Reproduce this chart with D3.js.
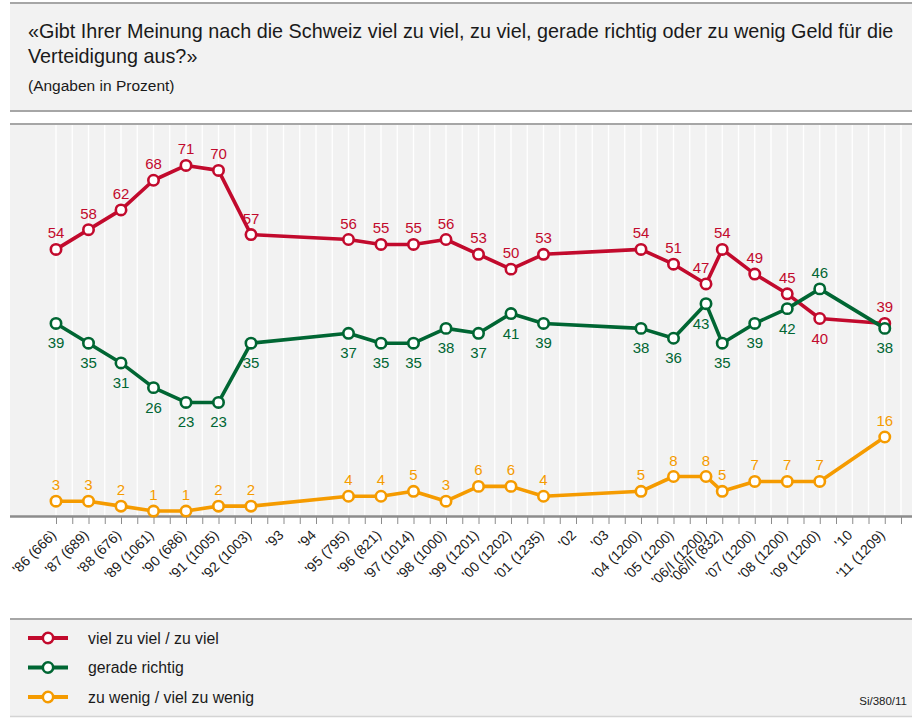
<!DOCTYPE html>
<html>
<head>
<meta charset="utf-8">
<script src="https://cdn.jsdelivr.net/npm/d3@7"></script>
<style>
  html, body { margin: 0; padding: 0; background: #ffffff; }
  svg { display: block; font-family: "Liberation Sans", Arial, sans-serif; }
</style>
</head>
<body>
<svg id="chart" width="912" height="718"></svg>
<script>
// Survey waves (year and sample size)
const periods = ["'86 (666)", "'87 (689)", "'88 (676)", "'89 (1061)", "'90 (686)", "'91 (1005)",
  "'92 (1003)", "'93", "'94", "'95 (795)", "'96 (821)", "'97 (1014)", "'98 (1000)", "'99 (1201)",
  "'00 (1202)", "'01 (1235)", "'02", "'03", "'04 (1200)", "'05 (1200)", "'06/I (1200)",
  "'06/II (832)", "'07 (1200)", "'08 (1200)", "'09 (1200)", "'10", "'11 (1209)"];

// Shares in percent (null = no survey that year)
const vielZuViel = [54, 58, 62, 68, 71, 70, 57, null, null, 56, 55, 55, 56, 53, 50, 53, null, null,
  54, 51, 47, 54, 49, 45, 40, null, 39];
const geradeRichtig = [39, 35, 31, 26, 23, 23, 35, null, null, 37, 35, 35, 38, 37, 41, 39, null, null,
  38, 36, 43, 35, 39, 42, 46, null, 38];
const zuWenig = [3, 3, 2, 1, 1, 2, 2, null, null, 4, 4, 5, 3, 6, 6, 4, null, null,
  5, 8, 8, 5, 7, 7, 7, null, 16];

const seriesNames = ["viel zu viel / zu viel", "gerade richtig", "zu wenig / viel zu wenig"];
const colors = ["#c20a2d", "#006633", "#f59b00"];

const title1 = "«Gibt Ihrer Meinung nach die Schweiz viel zu viel, zu viel, gerade richtig oder zu wenig Geld für die";
const title2 = "Verteidigung aus?»";
const subtitle = "(Angaben in Prozent)";
const sourceNote = "Si/380/11";

// Half-year slots: each wave is one year after the previous, a second wave "/II" half a year after.
const slots = [];
periods.forEach((p, i) => {
  if (i === 0) slots.push(0);
  else slots.push(slots[i - 1] + (p.includes("/II") ? 1 : 2));
});
const lastSlot = slots[slots.length - 1] + 1;

const W = 912, H = 718;
const svg = d3.select("#chart");

const x = d3.scaleLinear().domain([0, lastSlot]).range([56, 901]);
const y = d3.scaleLinear().domain([0, 80]).range([516, 121]);

// ---- header panel
svg.append("rect").attr("x", 10).attr("y", 3).attr("width", W - 10).attr("height", 108).attr("fill", "#f2f2f2");
svg.append("line").attr("x1", 10).attr("x2", W).attr("y1", 3).attr("y2", 3).attr("stroke", "#a6a6a6").attr("stroke-width", 2);
svg.append("line").attr("x1", 10).attr("x2", W).attr("y1", 111).attr("y2", 111).attr("stroke", "#a6a6a6").attr("stroke-width", 2);
svg.append("text").attr("x", 28).attr("y", 38).attr("font-size", 19.8).attr("fill", "#1a1a1a").text(title1);
svg.append("text").attr("x", 28).attr("y", 63).attr("font-size", 19.8).attr("fill", "#1a1a1a").text(title2);
svg.append("text").attr("x", 28).attr("y", 91).attr("font-size", 15.5).attr("fill", "#1a1a1a").text(subtitle);

// ---- plot panel
svg.append("rect").attr("x", 10).attr("y", 124).attr("width", W - 10).attr("height", 516 - 124).attr("fill", "#f2f2f2");
svg.append("line").attr("x1", 10).attr("x2", W).attr("y1", 124).attr("y2", 124).attr("stroke", "#a6a6a6").attr("stroke-width", 2);

const gridSlots = d3.range(0, lastSlot + 1);
svg.append("g").selectAll("line").data(gridSlots).join("line")
  .attr("x1", d => x(d)).attr("x2", d => x(d))
  .attr("y1", 125).attr("y2", 515)
  .attr("stroke", "#ffffff").attr("stroke-width", 1.3);

// x axis with a tick for each half-year and labels on the survey waves
const labelBySlot = new Map(slots.map((s, i) => [s, periods[i]]));
const xAxis = d3.axisBottom(x).tickValues(gridSlots).tickSize(8).tickSizeOuter(0).tickFormat(() => "");
const gx = svg.append("g").attr("transform", "translate(0,516)").call(xAxis);
gx.select(".domain").remove();
gx.selectAll(".tick line").attr("stroke", "#8c8c8c").attr("stroke-width", 1);
svg.append("line").attr("x1", 10).attr("x2", W).attr("y1", 516.5).attr("y2", 516.5).attr("stroke", "#8c8c8c").attr("stroke-width", 2.5);

svg.append("g").selectAll("text").data(slots).join("text")
  .attr("transform", d => `translate(${x(d) + 1},${536}) rotate(-45)`)
  .attr("text-anchor", "end")
  .attr("font-size", 14)
  .attr("fill", "#1a1a1a")
  .text(d => labelBySlot.get(d));

// ---- series
const allSeries = [vielZuViel, geradeRichtig, zuWenig];
// label placement: above (-1) or below (+1) the marker
const placement = [
  vielZuViel.map((v, i) => (v !== null && geradeRichtig[i] !== null && v < geradeRichtig[i] && i !== periods.length - 1) ? 1 : -1),
  geradeRichtig.map((v, i) => (v !== null && vielZuViel[i] !== null && v > vielZuViel[i]) ? -1 : 1),
  zuWenig.map(() => -1)
];

const line = d3.line()
  .defined(d => d.v !== null)
  .x(d => x(d.s))
  .y(d => y(d.v));

allSeries.forEach((vals, k) => {
  const pts = vals.map((v, i) => ({ v, s: slots[i], i })).filter(d => d.v !== null);
  const g = svg.append("g");
  g.append("path").datum(pts).attr("d", line)
    .attr("fill", "none").attr("stroke", colors[k]).attr("stroke-width", 3.6)
    .attr("stroke-linejoin", "round");
  g.selectAll("circle").data(pts).join("circle")
    .attr("cx", d => x(d.s)).attr("cy", d => y(d.v)).attr("r", 5.2)
    .attr("fill", "#ffffff").attr("stroke", colors[k]).attr("stroke-width", 2.6);
  g.selectAll("text").data(pts).join("text")
    .attr("x", d => x(d.s) - (periods[d.i].includes("/I ") && k < 2 ? 5 : 0))
    .attr("y", d => y(d.v) + (placement[k][d.i] < 0 ? -11 : 25))
    .attr("text-anchor", "middle")
    .attr("font-size", 15)
    .attr("fill", colors[k])
    .text(d => d.v);
});

// ---- legend panel
svg.append("rect").attr("x", 10).attr("y", 619).attr("width", W - 10).attr("height", 97).attr("fill", "#f2f2f2");
svg.append("line").attr("x1", 10).attr("x2", W).attr("y1", 619).attr("y2", 619).attr("stroke", "#a6a6a6").attr("stroke-width", 2);
svg.append("line").attr("x1", 10).attr("x2", W).attr("y1", 716.5).attr("y2", 716.5).attr("stroke", "#d4d4d4").attr("stroke-width", 1.5);

const leg = svg.append("g").selectAll("g").data(seriesNames).join("g")
  .attr("transform", (d, i) => `translate(0,${638 + i * 29.5})`);
leg.append("line").attr("x1", 28).attr("x2", 68).attr("y1", 0).attr("y2", 0)
  .attr("stroke", (d, i) => colors[i]).attr("stroke-width", 4);
leg.append("circle").attr("cx", 48).attr("cy", 0).attr("r", 5.2)
  .attr("fill", "#ffffff").attr("stroke", (d, i) => colors[i]).attr("stroke-width", 2.6);
leg.append("text").attr("x", 88).attr("y", 5.5).attr("font-size", 15.8).attr("fill", "#1a1a1a").text(d => d);

svg.append("text").attr("x", 907).attr("y", 705).attr("text-anchor", "end")
  .attr("font-size", 11.5).attr("fill", "#1a1a1a").text(sourceNote);
</script>
</body>
</html>
